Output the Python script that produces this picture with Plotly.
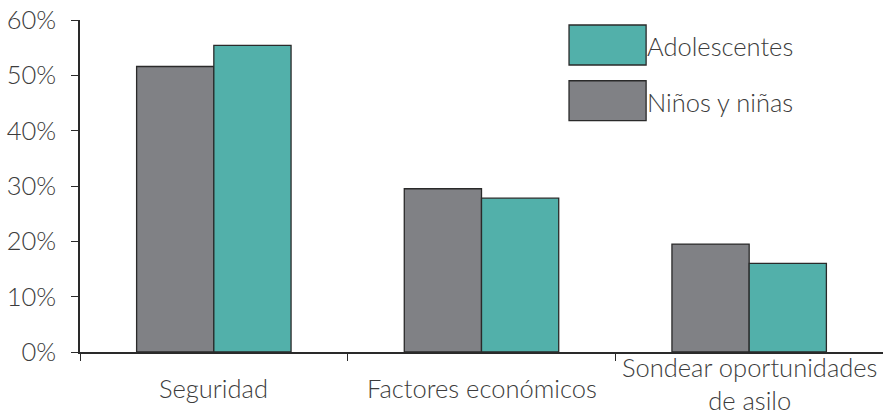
import plotly.graph_objects as go

categories = ["Seguridad", "Factores económicos", "Sondear oportunidades de asilo"]
category_labels = ["Seguridad", "Factores económicos", "Sondear oportunidades<br>de asilo"]
ninos = [51.6, 29.5, 19.5]
adolescentes = [55.4, 27.8, 16.0]
series_names = ["Adolescentes", "Niños y niñas"]
y_ticks = [0, 10, 20, 30, 40, 50, 60]
y_tick_labels = ["0%", "10%", "20%", "30%", "40%", "50%", "60%"]

GRAY = "#808185"
TEAL = "#52b0aa"
EDGE = "#2a2a2a"
TEXT = "#3c3c3c"
FONT = "Lato"
FS = 25.5

fig = go.Figure()
fig.add_trace(go.Bar(x=categories, y=ninos, name=series_names[1], marker=dict(color=GRAY, line=dict(color=EDGE, width=1.3)), showlegend=False))
fig.add_trace(go.Bar(x=categories, y=adolescentes, name=series_names[0], marker=dict(color=TEAL, line=dict(color=EDGE, width=1.3)), showlegend=False))

fig.update_layout(
    width=883, height=414,
    margin=dict(l=80, r=0, t=20, b=62, autoexpand=False),
    plot_bgcolor="white", paper_bgcolor="white",
    barmode="group", bargap=0.423, bargroupgap=0,
    font=dict(family=FONT, size=FS, color=TEXT, weight=300),
)
fig.update_xaxes(
    type="category", showticklabels=False, tickson="boundaries",
    ticks="outside", ticklen=7, tickwidth=1.3, tickcolor=EDGE,
    showline=True, linecolor=EDGE, linewidth=1.5, showgrid=False,
)
fig.update_yaxes(
    range=[0, 60], tickvals=y_ticks, ticktext=y_tick_labels,
    ticks="outside", ticklen=7, tickwidth=1.3, tickcolor=EDGE,
    showline=True, linecolor=EDGE, linewidth=1.5, showgrid=False, zeroline=False,
    ticklabelstandoff=10, ticklabeloverflow="allow",
    tickfont=dict(family=FONT, size=FS, color=TEXT, weight=300),
)

label_y = [-0.108, -0.108, -0.096]
for cat, lab, yy in zip(categories, category_labels, label_y):
    fig.add_annotation(x=cat, xref="x", y=yy, yref="paper", text=lab, showarrow=False,
                       xanchor="center", yanchor="middle",
                       font=dict(family=FONT, size=FS, color=TEXT, weight=300))

# legend
legend_colors = [TEAL, GRAY]
legend_rows = [(0.8645, 0.985, 0.922), (0.697, 0.817, 0.753)]
for name, col, (y0, y1, ym) in zip(series_names, legend_colors, legend_rows):
    fig.add_shape(type="rect", xref="paper", yref="paper", x0=0.609, x1=0.705, y0=y0, y1=y1,
                  fillcolor=col, line=dict(color=EDGE, width=1.3))
    fig.add_annotation(x=0.703, y=ym, xref="paper", yref="paper", text=name, showarrow=False,
                       xanchor="left", yanchor="middle",
                       font=dict(family=FONT, size=FS, color=TEXT, weight=300))

fig.write_html("out.html", config={"displayModeBar": False},
               post_script="document.body.style.margin='0px';")
